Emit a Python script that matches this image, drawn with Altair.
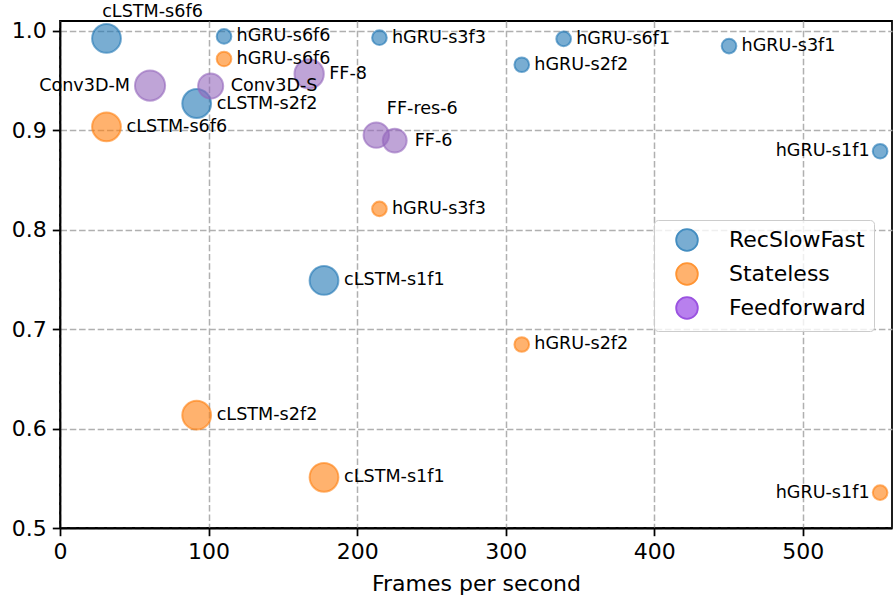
import altair as alt
import pandas as pd

# ---- data ----
models = [
    "cLSTM-s6f6", "cLSTM-s2f2", "cLSTM-s1f1",
    "hGRU-s6f6", "hGRU-s3f3", "hGRU-s2f2", "hGRU-s6f1", "hGRU-s3f1", "hGRU-s1f1",
    "cLSTM-s6f6", "cLSTM-s2f2", "cLSTM-s1f1",
    "hGRU-s6f6", "hGRU-s3f3", "hGRU-s2f2", "hGRU-s1f1",
    "Conv3D-M", "Conv3D-S", "FF-8", "FF-res-6", "FF-6",
]
family = (["RecSlowFast"] * 9) + (["Stateless"] * 7) + (["Feedforward"] * 5)
fps = [
    31.3, 92.0, 177.7,
    110.4, 215.0, 310.8, 339.0, 450.3, 552.0,
    31.3, 92.0, 177.7,
    110.4, 215.0, 310.8, 552.0,
    60.6, 101.4, 167.7, 212.9, 225.3,
]
accuracy = [
    0.9925, 0.927, 0.749,
    0.9945, 0.9932, 0.966, 0.992, 0.9848, 0.879,
    0.9035, 0.6135, 0.551,
    0.9718, 0.821, 0.6846, 0.5356,
    0.945, 0.9446, 0.9568, 0.8952, 0.8897,
]
model_size = [
    8.3, 8.3, 8.3,
    2.15, 2.15, 2.15, 2.15, 2.15, 2.15,
    8.3, 8.3, 8.3,
    2.15, 2.15, 2.15, 2.15,
    9.1, 6.3, 8.6, 6.5, 5.7,
]
label_side = [
    "above", "right", "right",
    "right", "right", "right", "right", "right", "left",
    "right", "right", "right",
    "right", "right", "right", "left",
    "left", "right", "right", "above", "right",
]

families = ["RecSlowFast", "Stateless", "Feedforward"]
point_colors = ["#1f77b4", "#ff7f0e", "#9467bd"]
legend_fill = ["#79add2", "#ffb26e", "#b880ee"]
legend_stroke = ["#438dc0", "#ff9433", "#9a52e0"]

x_ticks = [0, 100, 200, 300, 400, 500]
y_ticks = [0.5, 0.6, 0.7, 0.8, 0.9, 1.0]

df = pd.DataFrame({
    "model": models,
    "family": family,
    "fps": fps,
    "accuracy": accuracy,
    "model_size": model_size,
    "side": label_side,
})

FONT = "DejaVu Sans"

x_enc = alt.X(
    "fps:Q",
    scale=alt.Scale(domain=[0, 560], nice=False, zero=False),
    axis=alt.Axis(values=x_ticks, title="Frames per second", format="d", labelFlush=False),
)
y_enc = alt.Y(
    "accuracy:Q",
    scale=alt.Scale(domain=[0.5, 1.01], nice=False, zero=False),
    axis=alt.Axis(values=y_ticks, title=None, format=".1f", labelFlush=False),
)

base = alt.Chart(df)

points = base.mark_point(
    filled=True, fillOpacity=0.6, strokeOpacity=0.6, strokeWidth=2, opacity=1
).encode(
    x=x_enc,
    y=y_enc,
    fill=alt.Fill("family:N", scale=alt.Scale(domain=families, range=point_colors), legend=None),
    stroke=alt.Stroke("family:N", scale=alt.Scale(domain=families, range=point_colors), legend=None),
    size=alt.Size("model_size:Q", scale=alt.Scale(domain=[0, 10], range=[0, 1000]), legend=None),
)

legend_props = dict(
    orient="none", legendX=594, legendY=199, title=None,
    symbolType="circle", symbolSize=470, symbolStrokeWidth=1.8, symbolOpacity=1,
    labelFont=FONT, labelFontSize=22, labelColor="black",
    padding=8, rowPadding=4, symbolOffset=13, labelOffset=30,
    fillColor="rgba(255,255,255,0.8)", strokeColor="#cccccc", cornerRadius=4,
)

legend_layer = base.transform_filter("false").mark_point(filled=True, opacity=1).encode(
    x=x_enc,
    y=y_enc,
    fill=alt.Fill("family:N", scale=alt.Scale(domain=families, range=legend_fill),
                  legend=alt.Legend(**legend_props)),
    stroke=alt.Stroke("family:N", scale=alt.Scale(domain=families, range=legend_stroke),
                      legend=alt.Legend(**legend_props)),
)

def text_layer(filter_expr, align, dx, dy=0):
    return base.transform_filter(filter_expr).mark_text(
        align=align, baseline="middle", dx=dx, dy=dy,
        font=FONT, fontSize=17.6, color="black",
    ).encode(x=x_enc, y=y_enc, text="model:N")

labels = [
    text_layer("datum.side == 'right' && datum.model_size < 5", "left", 12.5),
    text_layer("datum.side == 'right' && datum.model_size >= 5", "left", 20),
    text_layer("datum.side == 'left' && datum.model_size < 5", "right", -10.5),
    text_layer("datum.side == 'left' && datum.model_size >= 5", "right", -20),
    text_layer("datum.side == 'above'", "center", 46, -26),
]

chart = alt.layer(points, legend_layer, *labels).resolve_scale(
    fill="independent", stroke="independent"
).properties(
    width=832,
    height=507,
    padding={"left": 60, "top": 21, "right": 4, "bottom": 72},
    autosize=alt.AutoSizeParams(type="none"),
    background="white",
).configure_view(
    stroke="black", strokeWidth=1.76
).configure_axis(
    labelFont=FONT, labelFontSize=22, labelColor="black",
    titleFont=FONT, titleFontSize=22, titleFontWeight="normal", titleColor="black",
    tickColor="black", tickSize=7.7, tickWidth=1.76,
    domainColor="black", domainWidth=1.76,
    grid=True, gridColor="#b0b0b0", gridDash=[6.5, 2.8], gridWidth=1.5,
    labelPadding=6,
).configure_axisX(
    titlePadding=11,
)

chart.save("out.html", embed_options={"renderer": "svg", "actions": False})
